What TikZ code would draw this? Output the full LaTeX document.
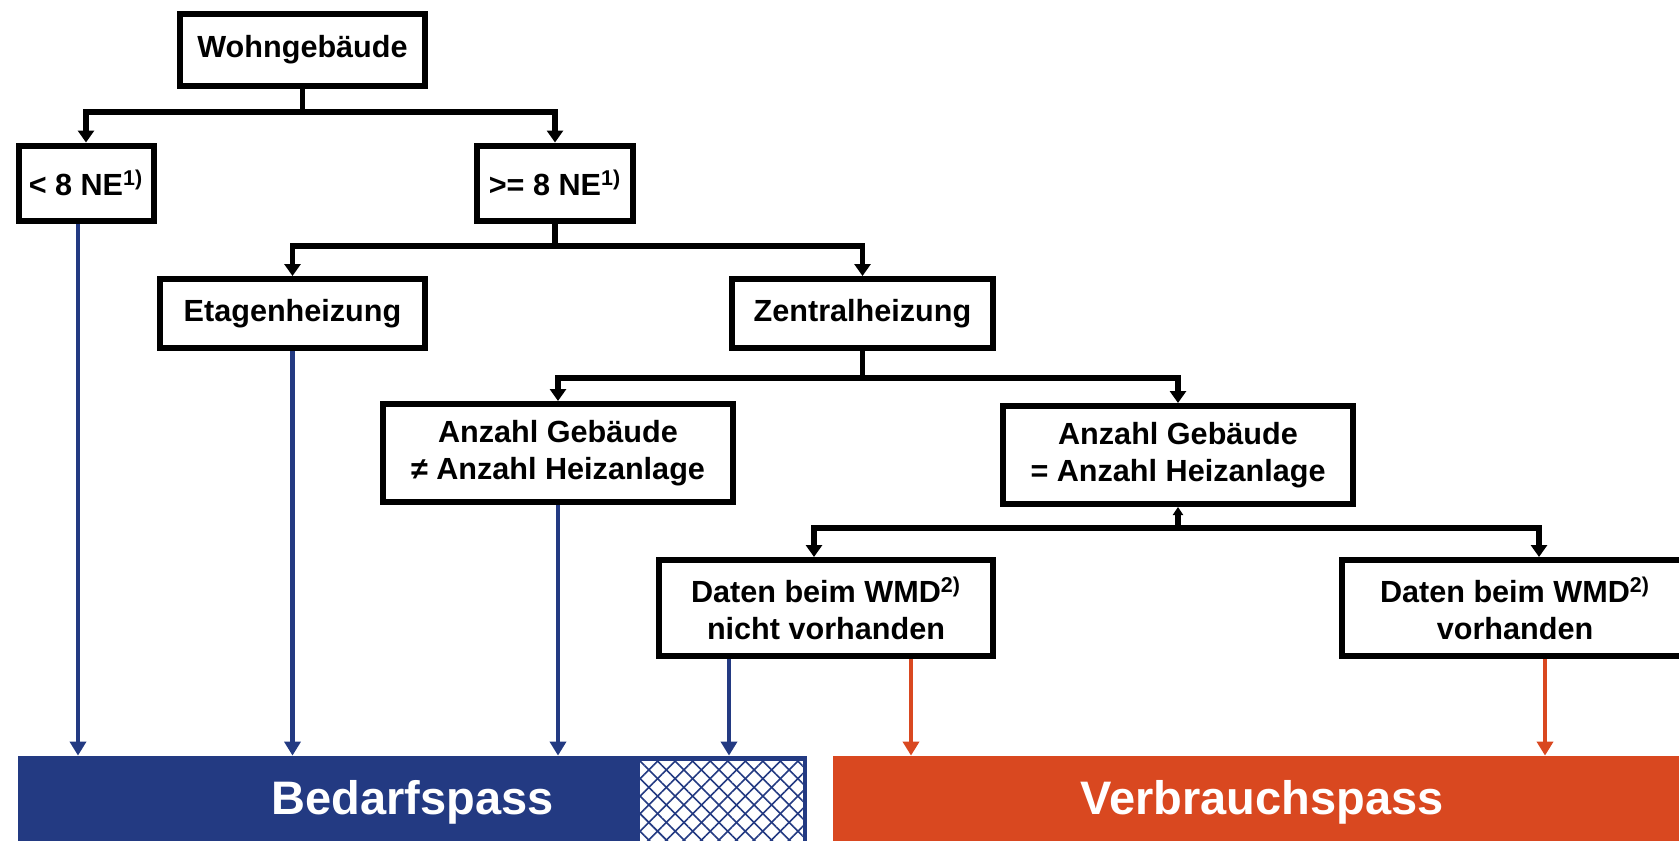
\documentclass[tikz,border=0pt]{standalone}
\usepackage{fontspec}
\setmainfont{Liberation Sans}
\usetikzlibrary{arrows.meta,patterns.meta}
\definecolor{bedarfblue}{RGB}{35,58,130}
\definecolor{verbrauchred}{RGB}{217,72,32}

\begin{document}
\begin{tikzpicture}[x=0.5pt,y=-0.5pt,
	box/.style={draw,line width=3pt,fill=white,inner sep=0pt,align=center,
		font=\bfseries\fontsize{15.3}{18.2}\selectfont},
	pass/.style={inner sep=0pt,text=white,minimum height=46pt,
		font=\bfseries\fontsize{23.5}{28}\selectfont},
	stem/.style={line width=2.6pt},
	tree/.style={stem,-{Triangle[width=8pt,length=6pt]}},
	toblue/.style={bedarfblue,line width=2.2pt,-{Triangle[width=8pt,length=7pt]}},
	tored/.style={verbrauchred,line width=2.2pt,-{Triangle[width=8pt,length=7pt]}}]
\clip (0,0) rectangle (1679,840);
% boxes
\node[box,minimum width=122.5pt,minimum height=36pt]	(wohn)		at (302.5,50)	{Wohngebäude};
\node[box,minimum width=67.5pt,minimum height=37.5pt]	(lt8)		at (86,183)	{< 8 NE\textsuperscript{1)}};
\node[box,minimum width=78pt,minimum height=37.5pt]	(ge8)		at (555,183)	{>= 8 NE\textsuperscript{1)}};
\node[box,minimum width=132.5pt,minimum height=34.5pt]	(etage)		at (292.5,313.5)	{Etagenheizung};
\node[box,minimum width=130.5pt,minimum height=34.5pt]	(zentral)	at (862.5,313.5)	{Zentralheizung};
\node[box,minimum width=175pt,minimum height=49pt]	(ungleich)	at (558,453)	{Anzahl Gebäude\\≠ Anzahl Heizanlage};
\node[box,minimum width=175pt,minimum height=49pt]	(gleich)	at (1178,455)	{Anzahl Gebäude\\= Anzahl Heizanlage};
\node[box,minimum width=167pt,minimum height=48pt]	(nicht)		at (826,608)	{Daten beim WMD\textsuperscript{2)}\\nicht vorhanden};
\node[box,minimum width=173pt,minimum height=48pt]	(vorh)		at (1515,608)	{Daten beim WMD\textsuperscript{2)}\\vorhanden};
% passes
\node[pass,fill=bedarfblue,minimum width=394.5pt]	(bedarf)	at (412.5,802)	{Bedarfspass};
\node[pass,fill=verbrauchred,minimum width=429pt]	(verbrauch)	at (1262,802)	{Verbrauchspass};
\fill[white] (640,761) rectangle (803,850);
\fill[pattern={Lines[angle=45,distance=6.2pt,line width=0.8pt]},pattern color=bedarfblue] (640,761) rectangle (803,850);
\fill[pattern={Lines[angle=-45,distance=6.2pt,line width=0.8pt]},pattern color=bedarfblue] (640,761) rectangle (803,850);
% tree
\coordinate (s1) at (302.5,112);
\coordinate (s2) at (555,246);
\coordinate (s3) at (862.5,378);
\coordinate (s4) at (1178,528);
\draw[stem]	(wohn) -- (s1);
\draw[tree]	(s1) -| (lt8);
\draw[tree]	(s1) -| (ge8);
\draw[stem]	(ge8) -- (s2);
\draw[tree]	(s2) -| (etage);
\draw[tree]	(s2) -| (zentral);
\draw[stem]	(zentral) -- (s3);
\draw[tree]	(s3) -| (ungleich);
\draw[tree]	(s3) -| (gleich);
\draw[stem,{Triangle[width=5pt,length=4pt]}-]	(gleich) -- (s4);
\draw[tree]	(s4) -| ([xshift=-6pt]nicht.north);
\draw[tree]	(s4) -| ([xshift=12pt]vorh.north);
% to the passes
\draw[toblue]	(lt8.south) ++(-8,0) coordinate (b1) -- (b1 |- bedarf.north);
\draw[toblue]	(etage.south) -- (etage.south |- bedarf.north);
\draw[toblue]	(ungleich.south) -- (ungleich.south |- bedarf.north);
\draw[toblue]	(nicht.south) ++(-97,0) coordinate (b4) -- (b4 |- bedarf.north);
\draw[tored]	(nicht.south) ++(85,0) coordinate (r1) -- (r1 |- verbrauch.north);
\draw[tored]	(vorh.south) ++(30,0) coordinate (r2) -- (r2 |- verbrauch.north);
\end{tikzpicture}
\end{document}
